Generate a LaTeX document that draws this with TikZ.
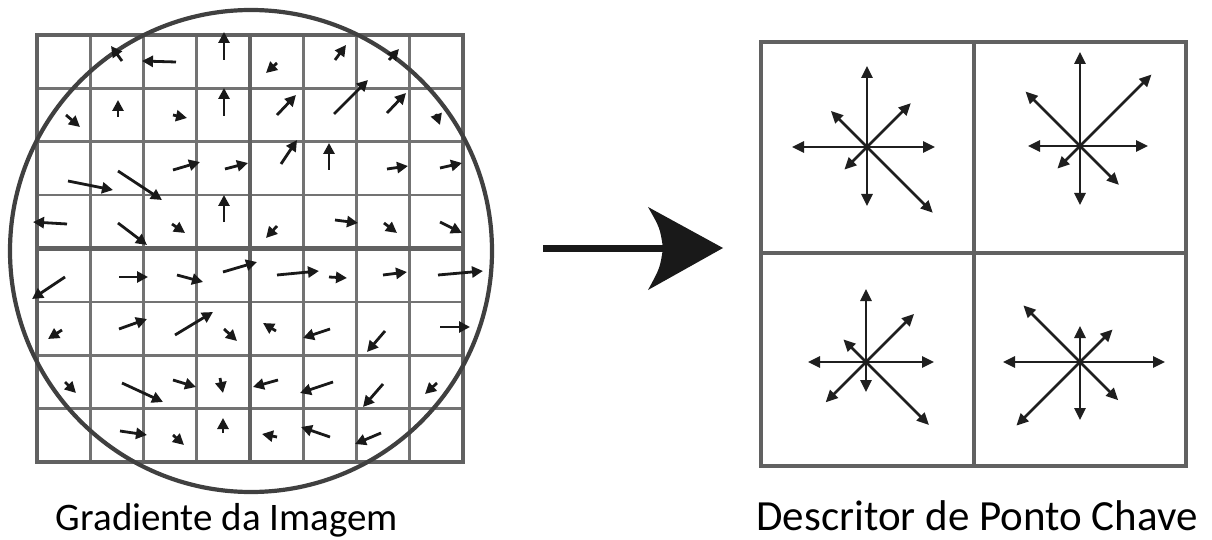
\documentclass[tikz,border=0pt]{standalone}
\usepackage{fontspec}
\setmainfont{Carlito}
\usetikzlibrary{arrows.meta,positioning}

\begin{document}
\begin{tikzpicture}[x=1pt, y=-1pt,
        cellline/.style={draw=black!55, line width=2.6pt},
        boxline/.style={draw=black!62, line width=4.2pt},
        ring/.style={draw=black!75, line width=4.2pt},
        grad/.style={line width=2.8pt, black!90, -{Triangle[length=11pt,width=11pt]}},
        bin/.style={line width=2.6pt, black!88, -{Triangle[length=12pt,width=11pt]}},
        caption/.style={font=\fontsize{39}{44}\selectfont, anchor=base, inner sep=0pt}
    ]
        \useasboundingbox[fill=white] (0,0) rectangle (1212,540);

        % Sample grid
        \foreach \k in {1,2,3,5,6,7} {
            \draw[cellline] ({37+53.25*\k},35) -- ({37+53.25*\k},462);
            \draw[cellline] (37,{35+53.375*\k}) -- (463,{35+53.375*\k});
        }
        \draw[boxline] (250,35) -- (250,462);
        \draw[boxline] (37,248.5) -- (463,248.5);
        \draw[boxline] (37,35) rectangle (463,462);

        % Gaussian window
        \coordinate (win) at (251,251);
        \draw[ring] (win) circle[radius=241pt];

        % Gradients
        \foreach \xa/\ya/\xb/\yb in {
            122/61/111/46, 176/62/142/61, 224/60/224/32,
            277/63/266/73, 335/60/346/45, 389/60/399/49,
            66/115/80/127, 118/117/118/100, 173/115/187/118, 224/116/224/88,
            277/115/296/95, 334/114/368/80, 387/113/406/93, 436/114/440/125,
            68/181/113/190, 118/171/162/200, 173/170/200/162, 225/169/248/163,
            281/164/297/140, 329/170/329/143, 387/169/408/166, 440/168/462/163,
            67/224/33/222, 118/223/147/245, 172/224/185/233, 224/222/224/195,
            277/226/266/238, 335/220/358/223, 384/223/397/233, 440/222/462/233,
            65/277/32/299, 119/277/148/277, 177/275/203/282, 223/272/257/262,
            277/275/319/271, 329/277/347/278, 383/275/407/272, 438/275/483/271,
            62/330/48/339, 119/329/147/319, 175/335/213/312, 224/329/237/341,
            276/331/263/323, 330/329/303/338, 385/331/367/352, 440/327/470/327,
            65/382/76/393, 122/383/163/402, 173/380/196/387, 220/378/223/393,
            278/380/253/387, 333/382/300/393, 383/384/363/407, 437/383/425/394,
            120/431/147/435, 173/435/184/445, 223/433/223/418,
            277/437/262/434, 330/437/301/427, 381/433/355/444}
            \draw[grad] (\xa,\ya) -- (\xb,\yb);

        % Main arrow
        \coordinate (shaftL) at (543,248);
        \coordinate (shaftR) at (664,248);
        \draw[black!90, line width=7pt] (shaftL) -- (shaftR);
        \fill[black!90] (723,248) -- (648,207) .. controls (660,228) .. (663,248)
            .. controls (660,268) .. (648,290) -- cycle;

        % Descriptor
        \draw[boxline] (974,42) -- (974,466);
        \draw[boxline] (761,253) -- (1186,253);
        \draw[boxline] (761,42) rectangle (1186,466);

        \coordinate (binTL) at (867,147);
        \coordinate (binTR) at (1080,146);
        \coordinate (binBL) at (866,362);
        \coordinate (binBR) at (1080,362);

        \foreach \a/\r in {90/81, 0/68, 180/75, 270/59, 45/62, 135/51, 225/32, 315/93}
            \draw[bin] (binTL) -- ++(\a:\r pt);
        \foreach \a/\r in {90/94, 0/68, 180/52, 270/59, 45/101, 135/77, 225/32, 315/55}
            \draw[bin] (binTR) -- ++(\a:\r pt);
        \foreach \a/\r in {90/73, 0/68, 180/58, 270/30, 45/68, 135/32, 225/57, 315/89}
            \draw[bin] (binBL) -- ++(\a:\r pt);
        \foreach \a/\r in {90/36, 0/85, 180/77, 270/58, 45/46, 135/80, 225/90, 315/54}
            \draw[bin] (binBR) -- ++(\a:\r pt);

        % Captions
        \node[caption] (gradlabel) at (227,530) {Gradiente da Imagem};
        \node[caption, font=\fontsize{43}{48}\selectfont] (desclabel) at (977,530) {Descritor de Ponto Chave};
    \end{tikzpicture}
\end{document}
